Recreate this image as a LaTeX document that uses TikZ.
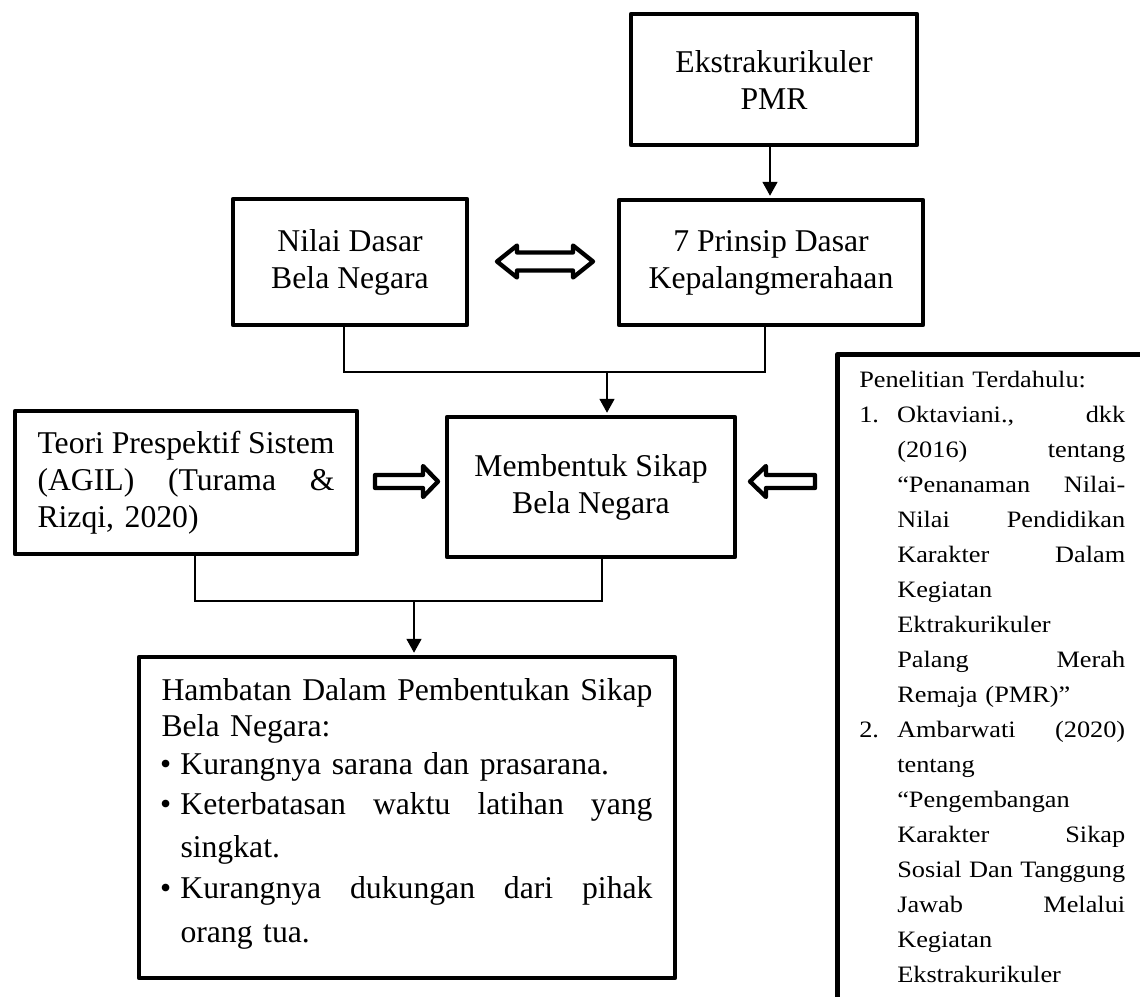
\documentclass[tikz,border=0pt]{standalone}
\usepackage{fontspec}
\setmainfont{Liberation Serif}
\newfontfamily\rbfont[FakeStretch=1.12]{Liberation Serif}
\usetikzlibrary{arrows.meta,calc}
\newcommand\jl[2]{\makebox[#1][l]{#2}}
\begin{document}
\begin{tikzpicture}[x=1pt,y=-1pt,
  box/.style={draw, line width=4.5pt, line join=round, inner sep=0pt, font=\fontsize{31.7pt}{37pt}\selectfont},
  conn/.style={line width=1.8pt},
  arr/.style={conn, -{Triangle[length=14pt,width=15pt]}, shorten >=2pt},
  hollow/.style={draw, line width=4.3pt, line join=round, fill=white}]
\useasboundingbox (0,0) rectangle (1140,996);
\clip (0,0) rectangle (1140,996);
\fill[white] (0,0) rectangle (1140,996);

\node[box, minimum width=286pt, minimum height=131pt, align=center] (ekstra) at (774,79.5) {Ekstrakurikuler\\PMR};
\node[box, minimum width=304pt, minimum height=125pt, align=center] (prinsip) at (771,262.5) {7 Prinsip Dasar\\Kepalangmerahaan};
\node[box, minimum width=234pt, minimum height=126pt, align=center] (nilai) at (350,262) {Nilai Dasar\\Bela Negara};
\node[box, minimum width=288pt, minimum height=140pt, align=center] (membentuk) at (591,487) {Membentuk Sikap\\Bela Negara};
\node[box, minimum width=342pt, minimum height=143pt, text width=297pt, align=left] (teori) at (186,482.5) {\jl{297pt}{Teori\hfill Prespektif\hfill Sistem}\\\jl{297pt}{(AGIL)\hfill(Turama\hfill\&}\\Rizqi, 2020)};
\node[box, minimum width=536pt, minimum height=321pt, text width=491pt, align=left, font=\fontsize{31.7pt}{36pt}\selectfont] (hambatan) at (407,817.5) {%
\jl{491pt}{Hambatan\hfill Dalam\hfill Pembentukan\hfill Sikap}\\
Bela Negara:\\[2pt]
\makebox[19pt][l]{\hspace*{-1.5pt}•}Kurangnya sarana dan prasarana.\\[4pt]
\makebox[19pt][l]{\hspace*{-1.5pt}•}\jl{472pt}{Keterbatasan\hfill waktu\hfill latihan\hfill yang}\\[7pt]
\hspace*{19pt}singkat.\\[5pt]
\makebox[19pt][l]{\hspace*{-1.5pt}•}\jl{472pt}{Kurangnya\hfill dukungan\hfill dari\hfill pihak}\\[8pt]
\hspace*{19pt}orang tua.\rule[-15pt]{0pt}{15pt}};

\node[box, anchor=north west, inner xsep=22pt, inner ysep=17pt, text width=266pt, align=left, font=\rbfont\fontsize{23.5pt}{35pt}\selectfont] (prev) at (835,352) {%
Penelitian Terdahulu:\\
\makebox[38pt][l]{1.}\jl{228pt}{Oktaviani.,\hfill dkk}\\
\hspace*{38pt}\jl{228pt}{(2016)\hfill tentang}\\
\hspace*{38pt}\jl{228pt}{“Penanaman\hfill Nilai-}\\
\hspace*{38pt}\jl{228pt}{Nilai\hfill Pendidikan}\\
\hspace*{38pt}\jl{228pt}{Karakter\hfill Dalam}\\
\hspace*{38pt}Kegiatan\\
\hspace*{38pt}Ektrakurikuler\\
\hspace*{38pt}\jl{228pt}{Palang\hfill Merah}\\
\hspace*{38pt}Remaja (PMR)”\\
\makebox[38pt][l]{2.}\jl{228pt}{Ambarwati\hfill (2020)}\\
\hspace*{38pt}tentang\\
\hspace*{38pt}“Pengembangan\\
\hspace*{38pt}\jl{228pt}{Karakter\hfill Sikap}\\
\hspace*{38pt}\jl{228pt}{Sosial\hfill Dan\hfill Tanggung}\\
\hspace*{38pt}\jl{228pt}{Jawab\hfill Melalui}\\
\hspace*{38pt}Kegiatan\\
\hspace*{38pt}Ekstrakurikuler\rule[-60pt]{0pt}{60pt}};

% thin connectors
\draw[arr] ([xshift=-4pt]ekstra.south) -- ([xshift=-4pt]ekstra.south |- prinsip.north);
\coordinate (j1) at (607,372);
\draw[conn] ([xshift=-6pt]nilai.south) |- (j1);
\draw[conn] ([xshift=-6pt]prinsip.south) |- (j1);
\draw[arr] (j1) -- (j1 |- membentuk.north);
\coordinate (j2) at (414,601);
\draw[conn] ([xshift=9pt]teori.south) |- (j2);
\draw[conn] ([xshift=11pt]membentuk.south) |- (j2);
\draw[arr] (j2) -- (j2 |- hambatan.north);

% hollow block arrows
\draw[hollow] (497,261.5) -- (517,245.5) -- (517,252.5) -- (573,252.5) -- (573,245.5) -- (593,261.5) -- (573,277.5) -- (573,270.5) -- (517,270.5) -- (517,277.5) -- cycle;
\draw[hollow] (375,475) -- (423,475) -- (423,466) -- (438,481.5) -- (423,497) -- (423,488) -- (375,488) -- cycle;
\draw[hollow] (815,475) -- (766,475) -- (766,466) -- (750,481.5) -- (766,497) -- (766,488) -- (815,488) -- cycle;
\end{tikzpicture}
\end{document}
